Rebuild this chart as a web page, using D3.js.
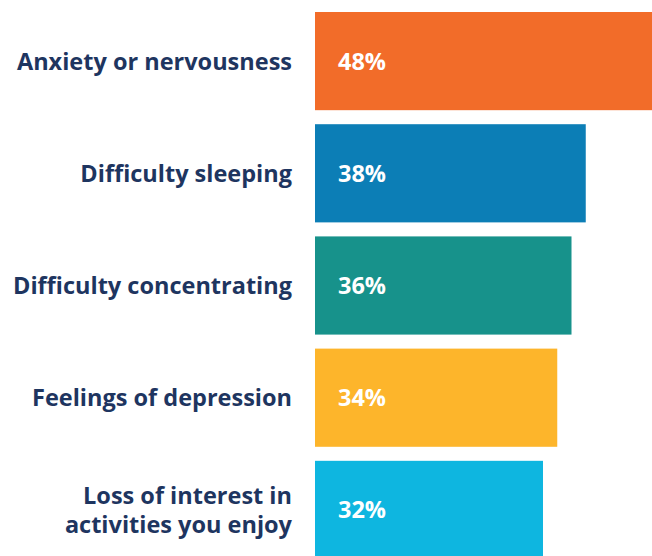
<!DOCTYPE html>
<html>
<head>
<meta charset="utf-8">
<script src="https://cdn.jsdelivr.net/npm/d3@7"></script>
<style>
  body { margin: 0; background: #fff; overflow: hidden; }
  text { font-family: "Open Sans", Lato, sans-serif; font-weight: 700; }
</style>
</head>
<body>
<div id="chart"></div>
<script>
// data
var categories = [
  "Anxiety or nervousness",
  "Difficulty sleeping",
  "Difficulty concentrating",
  "Feelings of depression",
  "Loss of interest in activities you enjoy"
];
var labelLines = [
  ["Anxiety or nervousness"],
  ["Difficulty sleeping"],
  ["Difficulty concentrating"],
  ["Feelings of depression"],
  ["Loss of interest in", "activities you enjoy"]
];
var values = [48, 38, 36, 34, 32];
var colors = ["#f26c29", "#0c7eb6", "#17928b", "#fdb52b", "#0eb6e0"];

var width = 652, height = 556;
var barLeft = 315;

var svg = d3.select("#chart")
  .append("svg")
    .attr("width", width)
    .attr("height", height);

var y = d3.scaleBand()
  .domain(categories)
  .range([12, 559])
  .paddingInner(0.125)
  .paddingOuter(0);

// longest bar runs past the right edge and gets cut off, like the original
var x = d3.scaleLinear()
  .domain([0, 48])
  .range([0, 342]);

var rows = svg.selectAll(".row")
  .data(categories)
  .enter().append("g")
    .attr("class", "row");

// bars
rows.append("rect")
  .attr("x", barLeft)
  .attr("y", d => y(d))
  .attr("width", (d, i) => x(values[i]))
  .attr("height", y.bandwidth())
  .attr("fill", (d, i) => colors[i]);

// value labels
rows.append("text")
  .attr("x", barLeft + 23)
  .attr("y", d => y(d) + y.bandwidth() / 2)
  .attr("dy", "0.36em")
  .attr("fill", "#fff")
  .style("font-size", "23.5px")
  .text((d, i) => values[i] + "%");

// category labels (right aligned)
rows.each(function(d, i) {
  var lines = labelLines[i];
  var lh = 29;
  var cy = y(d) + y.bandwidth() / 2 - (lines.length - 1) * lh / 2;
  var t = d3.select(this).append("text")
    .attr("text-anchor", "end")
    .attr("fill", "#1e3560")
    .style("font-size", "23.5px");
  lines.forEach(function(line, j) {
    t.append("tspan")
      .attr("x", 292)
      .attr("y", cy + j * lh)
      .attr("dy", "0.36em")
      .text(line);
  });
});
</script>
</body>
</html>
